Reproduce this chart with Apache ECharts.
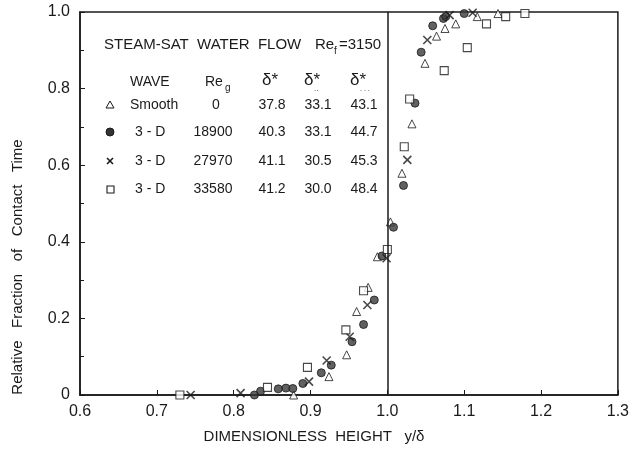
<!DOCTYPE html>
<html><head><meta charset="utf-8">
<script src="https://cdn.jsdelivr.net/npm/echarts@6/dist/echarts.min.js"></script>
<style>html,body{margin:0;padding:0;background:#fff}#c{width:632px;height:451px}</style>
</head><body><div id="c"></div>
<script>
// ---- data (y/delta, relative fraction of contact time) ----
const smoothPts = [[0.878,0.0],[0.924,0.048],[0.947,0.105],[0.960,0.218],[0.975,0.281],[0.987,0.361],[1.004,0.452],[1.019,0.579],[1.032,0.708],[1.049,0.866],[1.064,0.937],[1.075,0.957],[1.089,0.969],[1.117,0.988],[1.144,0.996]];
const wave18900Pts = [[0.827,0.0],[0.835,0.010],[0.858,0.016],[0.868,0.018],[0.877,0.017],[0.890,0.030],[0.914,0.058],[0.927,0.078],[0.954,0.139],[0.969,0.184],[0.983,0.248],[0.993,0.363],[1.008,0.438],[1.021,0.547],[1.036,0.762],[1.044,0.895],[1.059,0.964],[1.073,0.983],[1.076,0.988],[1.100,0.996]];
const wave27970Pts = [[0.744,0.0],[0.809,0.005],[0.898,0.035],[0.921,0.090],[0.951,0.152],[0.974,0.235],[0.999,0.357],[1.026,0.614],[1.052,0.927],[1.081,0.992],[1.111,0.998]];
const wave33580Pts = [[0.730,0.0],[0.844,0.020],[0.896,0.072],[0.946,0.170],[0.969,0.272],[1.000,0.380],[1.022,0.648],[1.029,0.773],[1.074,0.847],[1.104,0.907],[1.129,0.969],[1.154,0.988],[1.179,0.996]];
const xTicks = [0.6,0.7,0.8,0.9,1.0,1.1,1.2,1.3];
const yTicks = [0,0.2,0.4,0.6,0.8,1.0];
const tableHeader = ['WAVE','Re','δ*','δ*','δ*'];
const tableRows = [
  ['Smooth','0','37.8','33.1','43.1'],
  ['3 - D','18900','40.3','33.1','44.7'],
  ['3 - D','27970','41.1','30.5','45.3'],
  ['3 - D','33580','41.2','30.0','48.4']
];

const FONT = 'Liberation Sans';
const INK = '#1a1a1a';
const chart = echarts.init(document.getElementById('c'));

const crossPath = 'path://M0,0L10,10M10,0L0,10';
const baseSeries = (name, data, symbol, fill, bw, size) => ({
  name, type:'scatter', data, symbol, symbolSize: size || 8,
  itemStyle:{color:fill, borderColor:INK, borderWidth:bw}
});

const rowY = [105, 132, 161, 189];
const graphics = [];
const txt = (x,y,s,size,align) => ({type:'text', style:{x, y, text:s, fill:INK, font:`${size||14}px "${FONT}"`, textAlign:align||'left', textVerticalAlign:'middle'}});
// title line
graphics.push(txt(104,45,'STEAM-SAT  WATER  FLOW',15));
graphics.push(txt(315,45,'Re',15));
graphics.push(txt(334,51,'f',10));
graphics.push(txt(339,45,'=3150',15));
// header
graphics.push(txt(130,82,tableHeader[0],14));
graphics.push(txt(205,82,tableHeader[1],14));
graphics.push(txt(225,88,'g',10));
graphics.push(txt(262,80,tableHeader[2],17));
graphics.push(txt(304,80,tableHeader[3],17));
graphics.push(txt(314,89,'..',8));
graphics.push(txt(350,80,tableHeader[4],17));
graphics.push(txt(360,89,'. . .',7));
tableRows.forEach((r,i)=>{
  graphics.push(txt(i===0?130:135,rowY[i],r[0],14));
  graphics.push(txt(i===0?216:213,rowY[i],r[1],14,'center'));
  graphics.push(txt(272,rowY[i],r[2],14,'center'));
  graphics.push(txt(318,rowY[i],r[3],14,'center'));
  graphics.push(txt(364,rowY[i],r[4],14,'center'));
});
// legend symbols
graphics.push({type:'polygon', shape:{points:[[110,101],[106,108],[114,108]]}, style:{fill:'none', stroke:INK, lineWidth:1}});
graphics.push({type:'circle', shape:{cx:110, cy:132, r:4}, style:{fill:'#333', stroke:INK, lineWidth:1}});
graphics.push({type:'polyline', shape:{points:[[107,158],[113,164]]}, style:{stroke:INK, lineWidth:1.6}});
graphics.push({type:'polyline', shape:{points:[[113,158],[107,164]]}, style:{stroke:INK, lineWidth:1.6}});
graphics.push({type:'rect', shape:{x:107, y:186, width:7, height:7}, style:{fill:'none', stroke:INK, lineWidth:1.1}});
// y axis title
graphics.push({type:'text', rotation:Math.PI/2, x:18, y:267, style:{x:0, y:0, text:'Relative   Fraction   of   Contact   Time', fill:INK, font:`15px "${FONT}"`, textAlign:'center', textVerticalAlign:'middle'}});
// x axis title
graphics.push(txt(314,437,'DIMENSIONLESS  HEIGHT   y/δ',15,'center'));

const axisCommon = {
  axisLine:{show:true, lineStyle:{color:INK, width:1.5}},
  axisTick:{show:true, inside:true, length:5, lineStyle:{color:INK}},
  splitLine:{show:false},
  axisLabel:{color:INK, fontFamily:FONT, fontSize:16}
};

chart.setOption({
  animation:false,
  backgroundColor:'#fff',
  grid:{left:80, right:13, top:12, bottom:56, show:true, borderColor:INK, borderWidth:1.5, backgroundColor:'transparent'},
  xAxis:Object.assign({}, axisCommon, {
    type:'value', min:xTicks[0], max:xTicks[xTicks.length-1], interval:0.1,
    axisLabel:Object.assign({}, axisCommon.axisLabel, {margin:9, formatter:v=>v.toFixed(1)})
  }),
  yAxis:Object.assign({}, axisCommon, {
    type:'value', min:yTicks[0], max:yTicks[yTicks.length-1], interval:0.2,
    minorTick:{show:true, splitNumber:2, length:4, lineStyle:{color:INK}},
    axisLabel:Object.assign({}, axisCommon.axisLabel, {margin:10, formatter:v=>v===0?'0':v.toFixed(1)})
  }),
  series:[
    Object.assign(baseSeries('Smooth', smoothPts, 'triangle', '#fff', 1, 8), {
      markLine:{silent:true, symbol:'none', label:{show:false}, lineStyle:{color:INK, width:1.5, type:'solid'}, data:[{xAxis:1.0}]}
    }),
    baseSeries('3-D 18900', wave18900Pts, 'circle', '#3a3a3a', 1, 8),
    baseSeries('3-D 27970', wave27970Pts, crossPath, 'none', 1.6, 8),
    baseSeries('3-D 33580', wave33580Pts, 'rect', '#fff', 1.1, 8)
  ],
  graphic:graphics
});
</script></body></html>
